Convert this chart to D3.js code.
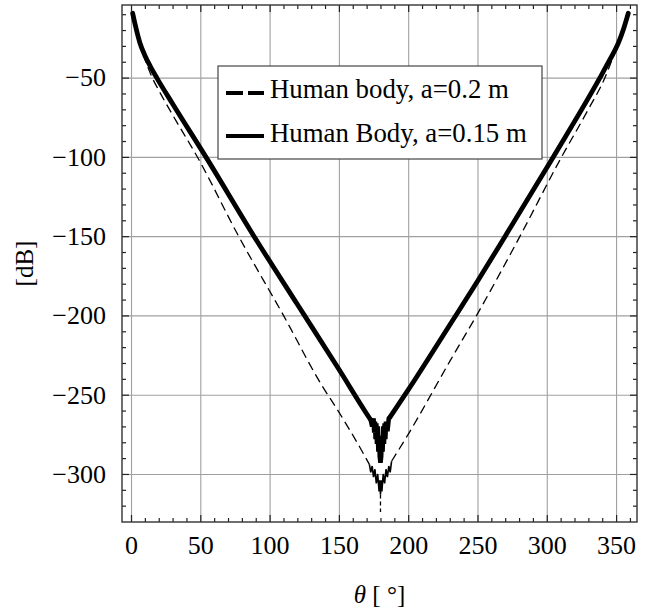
<!DOCTYPE html>
<html>
<head>
<meta charset="utf-8">
<script src="https://cdn.jsdelivr.net/npm/d3@7"></script>
<style>
  body { margin: 0; background: #fff; }
  text { font-family: "Liberation Serif", "Times New Roman", serif; fill: #000; }
</style>
</head>
<body>
<svg id="chart" width="656" height="613"></svg>
<script>
// values
var solidLeftTheta = [1.2, 3, 6.5, 10, 14, 18.5, 30, 54, 88.7, 120, 150, 170, 173];
var solidLeftDb = [-9.4, -16.5, -28.3, -36, -43, -50, -66.5, -100, -150, -193, -234, -262, -266];
var solidNoiseTheta = [173, 174, 175, 175.5, 176, 176.5, 177, 177.5, 178, 178.5, 179, 179.5, 180, 180.5, 181, 181.5, 182, 182.5, 183, 183.5, 184, 185, 186, 187];
var solidNoiseDb = [-266, -270, -265, -274, -267, -278, -268, -281, -270, -286, -276, -289, -293, -289, -276, -286, -270, -281, -268, -278, -267, -273, -265, -264];
var solidRightTheta = [187, 200, 230, 250, 270, 304.7, 338.4, 345, 351.6, 355.5, 358.8];
var solidRightDb = [-264, -247, -206, -178.5, -150, -100, -50, -39.5, -28.3, -19, -9.4];

var dashLeftTheta = [1.2, 3, 6.5, 9, 12, 15, 20, 30, 48.5, 77, 110, 137.6, 150, 165, 172];
var dashLeftDb = [-9.4, -16.5, -28, -35.5, -43, -49.5, -58, -73.5, -101, -149, -200, -244, -261, -283, -294];
var dashRightTheta = [188, 200, 230, 250, 280.7, 310.7, 330, 342, 347, 351.6, 355.5, 358.8];
var dashRightDb = [-292, -275, -229, -199, -150, -100, -70, -50, -39, -28.5, -19, -9.4];

// dense wiggle at the bottom of the dashed curve
var dashNoiseTheta = [172, 173, 174, 175, 176, 177, 178, 179, 179.5, 180, 180.5, 181, 182, 183, 184, 185, 186, 187, 188];
var dashNoiseDb = [-294, -299, -295, -302, -297, -306, -300, -311, -304, -313, -304, -311, -300, -306, -297, -302, -295, -299, -292];
var dashStemTheta = [180, 180];
var dashStemDb = [-313, -324];

var xMajor = [0, 50, 100, 150, 200, 250, 300, 350];
var yMajor = [-50, -100, -150, -200, -250, -300];
var legendLabels = ["Human body, a=0.2 m", "Human Body, a=0.15 m"];

var margin = { top: 5, left: 122, right: 19, bottom: 91 };
var width = 656 - margin.left - margin.right;
var height = 613 - margin.top - margin.bottom;

var svg = d3.select("#chart");
var g = svg.append("g").attr("transform", "translate(" + margin.left + "," + margin.top + ")");

var x = d3.scaleLinear().domain([-6.5, 365.1]).range([0, width]);
var y = d3.scaleLinear().domain([-330.3, -4.2]).range([height, 0]);

var xMinor = d3.range(0, 361, 10).filter(function (v) { return v % 50 !== 0; });
var yMinor = d3.range(-320, -9, 10).filter(function (v) { return v % 50 !== 0; });

// grid
g.append("g").attr("class", "grid")
  .attr("transform", "translate(0," + height + ")")
  .call(d3.axisBottom(x).tickValues(xMajor).tickSize(-height).tickFormat(""));
g.append("g").attr("class", "grid")
  .call(d3.axisLeft(y).tickValues(yMajor).tickSize(-width).tickFormat(""));
g.selectAll(".grid path").remove();
g.selectAll(".grid line").attr("stroke", "#a0a0a0").attr("stroke-width", 1.1);

var smooth = d3.line().curve(d3.curveMonotoneX)
  .x(function (d) { return x(d[0]); }).y(function (d) { return y(d[1]); });
var straight = d3.line()
  .x(function (d) { return x(d[0]); }).y(function (d) { return y(d[1]); });
function pairs(a, b) { return a.map(function (v, i) { return [v, b[i]]; }); }

function draw(data, gen, w, dash) {
  var p = g.append("path").datum(data)
    .attr("d", gen).attr("fill", "none").attr("stroke", "#000")
    .attr("stroke-width", w);
  if (dash) p.attr("stroke-dasharray", dash);
  return p;
}

draw(pairs(dashLeftTheta, dashLeftDb), smooth, 1.3, "9,5");
draw(pairs(dashRightTheta, dashRightDb), smooth, 1.3, "9,5");
draw(pairs(dashNoiseTheta, dashNoiseDb), straight, 1.6);
draw(pairs(dashStemTheta, dashStemDb), straight, 1.3, "4,3");

draw(pairs(solidLeftTheta, solidLeftDb), smooth, 4.8).attr("stroke-linecap", "round");
draw(pairs(solidNoiseTheta, solidNoiseDb), straight, 4.6)
  .attr("stroke-linejoin", "miter").attr("stroke-miterlimit", 2);
draw(pairs(solidRightTheta, solidRightDb), smooth, 4.8).attr("stroke-linecap", "round");

// frame ticks, pointing inwards on all sides
function ticks(axis, tr) {
  var a = g.append("g").attr("class", "tk");
  if (tr) a.attr("transform", tr);
  a.call(axis);
  return a;
}
ticks(d3.axisBottom(x).tickValues(xMajor).tickSize(-7).tickPadding(14)
  .tickFormat(function (d) { return d; }), "translate(0," + height + ")");
ticks(d3.axisBottom(x).tickValues(xMinor).tickSize(-4).tickFormat(""), "translate(0," + height + ")");
ticks(d3.axisTop(x).tickValues(xMajor).tickSize(-7).tickFormat(""));
ticks(d3.axisTop(x).tickValues(xMinor).tickSize(-4).tickFormat(""));
ticks(d3.axisLeft(y).tickValues(yMajor).tickSize(-7).tickPadding(16)
  .tickFormat(function (d) { return "\u2212" + Math.abs(d); }));
ticks(d3.axisLeft(y).tickValues(yMinor).tickSize(-4).tickFormat(""));
ticks(d3.axisRight(y).tickValues(yMajor).tickSize(-7).tickFormat(""), "translate(" + width + ",0)");
ticks(d3.axisRight(y).tickValues(yMinor).tickSize(-4).tickFormat(""), "translate(" + width + ",0)");
g.selectAll(".tk path").remove();
g.selectAll(".tk line").attr("stroke", "#222").attr("stroke-width", 1.2);
g.selectAll(".tk text").attr("font-size", 26).attr("font-family", "Liberation Serif").attr("fill", "#000");

g.append("rect").attr("x", 0).attr("y", 0).attr("width", width).attr("height", height)
  .attr("fill", "none").attr("stroke", "#333").attr("stroke-width", 1.4);

// legend
var lg = svg.append("g").attr("transform", "translate(218,66)");
lg.append("rect").attr("width", 324).attr("height", 93)
  .attr("fill", "#fff").attr("stroke", "#444").attr("stroke-width", 1.2);
lg.append("line").attr("x1", 8).attr("x2", 46).attr("y1", 27).attr("y2", 27)
  .attr("stroke", "#000").attr("stroke-width", 4).attr("stroke-dasharray", "17,5");
lg.append("line").attr("x1", 8).attr("x2", 46).attr("y1", 70).attr("y2", 70)
  .attr("stroke", "#000").attr("stroke-width", 4);
lg.selectAll("text.lab").data(legendLabels).enter().append("text")
  .attr("class", "lab")
  .attr("x", 52).attr("y", function (d, i) { return 32 + i * 43.5; })
  .attr("font-size", 26.8).text(function (d) { return d; });

// axis titles
svg.append("text").attr("transform", "translate(33," + (margin.top + height / 2) + ") rotate(-90)")
  .attr("text-anchor", "middle").attr("font-size", 25).text("[dB]");
var xt = svg.append("text").attr("x", margin.left + width / 2).attr("y", 603)
  .attr("text-anchor", "middle").attr("font-size", 25);
xt.append("tspan").attr("font-style", "italic").text("\u03b8");
xt.append("tspan").text(" [ \u00b0]");
</script>
</body>
</html>
